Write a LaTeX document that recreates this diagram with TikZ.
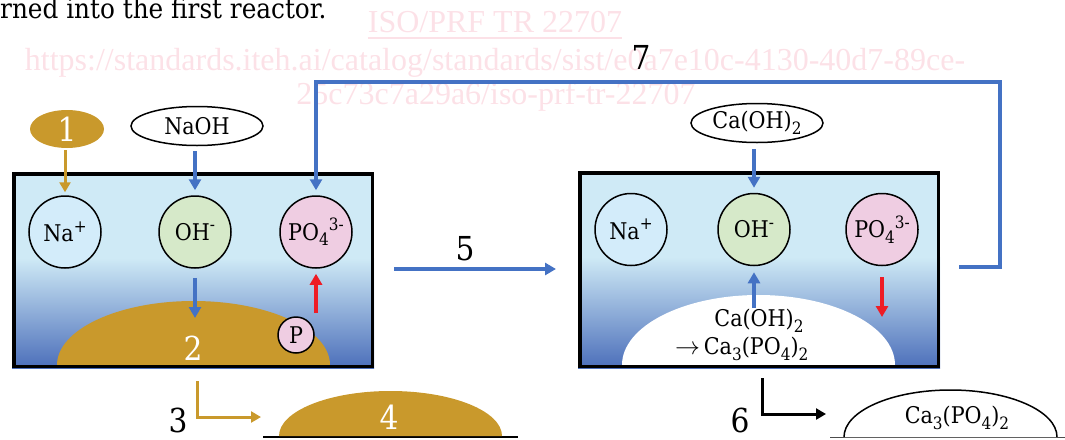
\documentclass[tikz,border=0pt]{standalone}
\usepackage{fontspec}
\setmainfont{DejaVu Serif Condensed}
\newfontfamily\wmfont{Liberation Serif}
\usetikzlibrary{arrows.meta,shapes.geometric}

% chemical indices set a little larger than plain sub/superscripts
\newcommand\chsub[1]{\raisebox{-0.24em}{\fontsize{17}{17}\selectfont #1}}
\newcommand\chsup[1]{\raisebox{0.42em}{\fontsize{17}{17}\selectfont #1}}

\definecolor{tankTop}{HTML}{CFEAF6}
\definecolor{tankBot}{HTML}{4C6FBA}
\definecolor{gold}{HTML}{C9992C}
\definecolor{flowBlue}{HTML}{4472C4}
\definecolor{flowRed}{HTML}{EE1C25}
\definecolor{naFill}{HTML}{D3ECFA}
\definecolor{ohFill}{HTML}{D6E9C9}
\definecolor{poFill}{HTML}{EFCDE2}
\definecolor{wmPink}{HTML}{FCE1E7}

\tikzset{
  lbl/.style={font=\fontsize{23}{27}\selectfont, inner sep=0pt},
  num/.style={font=\fontsize{33}{38}\selectfont, inner sep=0pt},
  ion/.style={circle, draw, line width=1.5pt, minimum size=72pt, inner sep=0pt,
    font=\fontsize{23}{27}\selectfont},
  feed/.style={ellipse, draw, line width=1.5pt, minimum width=132pt, minimum height=39pt,
    inner sep=0pt, font=\fontsize{23}{27}\selectfont},
  tank/.style={draw, line width=3.5pt},
  bluearrow/.style={draw=flowBlue, line width=3.5pt, -{Triangle[length=11pt,width=12pt]}},
  blueline/.style={draw=flowBlue, line width=3.5pt},
  redarrow/.style={draw=flowRed, line width=3.5pt, -{Triangle[length=11pt,width=12pt]}},
  goldarrow/.style={draw=gold, line width=3pt, -{Triangle[length=10pt,width=11pt]}},
  blackarrow/.style={draw=black, line width=3pt, -{Triangle[length=10pt,width=11pt]}},
  wm/.style={text=wmPink, font=\wmfont\fontsize{32}{34}\selectfont, inner sep=0pt},
}

\begin{document}
\begin{tikzpicture}[x=1pt, y=-1pt]
\useasboundingbox (0,0) rectangle (1065,439);

% running text above and the document watermark
\node[anchor=base west, inner sep=0pt, font=\fontsize{27.5}{30}\selectfont] (runin) at (0,18)
  {rned into the first reactor.};
\node[wm, anchor=base] (wmtitle) at (495,32) {ISO/PRF TR 22707};
\draw[wmPink, line width=2pt] (wmtitle.base west) ++(0,6) -- ([yshift=-6pt]wmtitle.base east);
\node[wm, anchor=base] (wmurl1) at (495,70) {https://standards.iteh.ai/catalog/standards/sist/e0a7e10c-4130-40d7-89ce-};
\node[wm, anchor=base] (wmurl2) at (496,104) {25c73c7a29a6/iso-prf-tr-22707};

% ---------- first reactor ----------
\fill[tankTop] (12,172) rectangle (374,259);
\shade[top color=tankTop, bottom color=tankBot] (12,258) rectangle (374,368);
\fill[gold] (57,365) arc[start angle=180, end angle=360, x radius=136.5, y radius=64] -- cycle;
\node[tank, minimum width=358.5pt, minimum height=192.5pt, inner sep=0pt] (r1) at (193,270) {};

\node[ion, fill=naFill] (na1) at (65,232) {Na\chsup{+}};
\node[ion, fill=ohFill] (oh1) at (195,232) {OH\chsup{-}};
\node[ion, fill=poFill] (po1) at (316,232) {PO\chsub{4}\chsup{3-}};
\node[circle, draw, line width=1.5pt, fill=poFill, minimum size=36pt, inner sep=0pt,
  font=\fontsize{23}{27}\selectfont] (p1) at (296,335) {P};
\node[num, text=white] (sludge) at (193,348) {2};

\node[ellipse, fill=gold, minimum width=74pt, minimum height=38pt, inner sep=0pt,
  num, text=white] (feed1) at (67,129) {1};
\node[feed] (naoh) at (197,126) {NaOH};

\draw[goldarrow, shorten <=2pt, shorten >=3pt] (feed1.south -| na1.north) -- (na1.north);
\draw[bluearrow, shorten <=5pt, shorten >=5pt] (naoh.south -| oh1.north) -- (oh1.north);
\coordinate (oh1low) at (195,318);
\draw[bluearrow, shorten <=9pt] (oh1.south) -- (oh1low);
\coordinate (p1up) at (316,313);
\draw[redarrow, shorten >=5pt] (p1up) -- (po1.south);

% ---------- second reactor ----------
\fill[tankTop] (578,171) rectangle (940,258);
\shade[top color=tankTop, bottom color=tankBot] (578,257) rectangle (940,368);
\fill[white] (622,365) arc[start angle=180, end angle=360, x radius=136.5, y radius=70] -- cycle;
\node[tank, minimum width=358.5pt, minimum height=193.5pt, inner sep=0pt] (r2) at (759,269.5) {};

\node[ion, fill=naFill] (na2) at (631,229.5) {Na\chsup{+}};
\node[ion, fill=ohFill] (oh2) at (754,229.5) {OH\chsup{-}};
\node[ion, fill=poFill] (po2) at (882,229.5) {PO\chsub{4}\chsup{3-}};
\node[feed] (caoh) at (757,123) {Ca(OH)\chsub{2}};

\node[lbl] (lime) at (759,321) {Ca(OH)\chsub{2}};
\node[lbl, anchor=west] (capo) at (675,349)
  {$\rightarrow$\,Ca\chsub{3}(PO\chsub{4})\chsub{2}};

\draw[bluearrow, shorten <=6pt, shorten >=5pt] (caoh.south -| oh2.north) -- (oh2.north);
\coordinate (limeup) at (754,308);
\draw[bluearrow, shorten >=6pt] (limeup) -- (oh2.south);
\coordinate (po2low) at (882,317);
\draw[redarrow, shorten <=11pt] (po2.south) -- (po2low);

% ---------- transfer between reactors and recycle ----------
\coordinate (out1) at (394,269);
\coordinate (in2) at (556,269);
\draw[bluearrow] (out1) -- (in2);
\node[num] (l5) at (465,249) {5};

\coordinate (ret) at (959,267);
\draw[blueline, shorten >=5pt, -{Triangle[length=11pt,width=12pt]}]
  (ret) -- (1000,267) -- (1000,82) -- (316,82) -- (po1.north);
\node[num] (l7) at (641,57) {7};

% ---------- sludge withdrawal ----------
\coordinate (draw1) at (197,381);
\coordinate (to4) at (261,417);
\draw[goldarrow] (draw1) |- (to4);
\node[num] (l3) at (178,420) {3};
\draw[line width=1.5pt] (263,437) -- (518,437);
\fill[gold] (279,436) arc[start angle=180, end angle=360, x radius=111.5, y radius=45] -- cycle;
\node[num, text=white] (l4) at (389,417) {4};

\coordinate (draw2) at (762,378);
\coordinate (to6) at (826,414);
\draw[blackarrow] (draw2) |- (to6);
\node[num] (l6) at (740,420) {6};
\draw[line width=1pt, black!70] (830,437.5) -- (1065,437.5);
\draw[line width=1.5pt, fill=white] (844,437) arc[start angle=180, end angle=360, x radius=106.5, y radius=47];
\node[lbl] (product) at (957,418) {Ca\chsub{3}(PO\chsub{4})\chsub{2}};
\end{tikzpicture}
\end{document}
